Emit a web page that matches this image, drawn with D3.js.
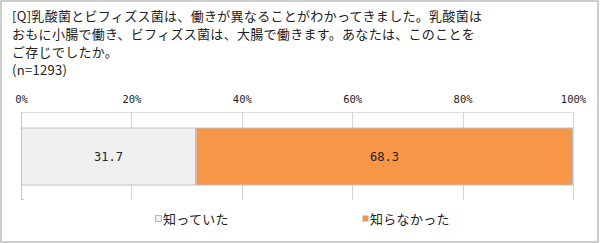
<!DOCTYPE html>
<html>
<head>
<meta charset="utf-8">
<script src="https://cdn.jsdelivr.net/npm/d3@7"></script>
<style>
  body { margin: 0; background: #fff; }
  svg { display: block; }
  text { font-family: "Noto Sans CJK JP", "DejaVu Sans", sans-serif; fill: #222; }
  text.mono { font-family: "DejaVu Sans Mono", monospace; }
</style>
</head>
<body>
<script>
// chart data
var titleLines = [
    "[Q]乳酸菌とビフィズス菌は、働きが異なることがわかってきました。乳酸菌は",
    "おもに小腸で働き、ビフィズス菌は、大腸で働きます。あなたは、このことを",
    "ご存じでしたか。",
    "(n=1293)"
];
var categories = ["知っていた", "知らなかった"];
var values = [31.7, 68.3];
var tickValues = [0, 20, 40, 60, 80, 100];
var colors = ["#f0f0f0", "#f79646"];
var legendColors = ["#f0f0f0", "#e39a55"];

var w = 600;
var h = 243;

var svg = d3.select("body").append("svg")
    .attr("width", w)
    .attr("height", h);

// outer frame
svg.append("rect")
    .attr("x", 1).attr("y", 1)
    .attr("width", w - 3).attr("height", h - 2)
    .attr("fill", "#fff")
    .attr("stroke", "#bdbdbd")
    .attr("stroke-width", 1.5);

// title
svg.append("g").selectAll("text")
    .data(titleLines)
    .enter().append("text")
    .attr("x", 12)
    .attr("y", function (d, i) { return 21 + i * 18; })
    .attr("font-size", "13px")
    .style("letter-spacing", "0.3px")
    .text(function (d) { return d; });

// scales
var x = d3.scaleLinear().domain([0, 100]).range([21, 573]);
var y = d3.scaleBand().domain(["Q"]).range([112, 200]).paddingOuter(0.272);

// stacked segments
var stack = [];
var acc = 0;
values.forEach(function (v, i) {
    stack.push({ name: categories[i], value: v, x0: acc, x1: acc + v, color: colors[i] });
    acc += v;
});

// plot frame: top line + left line
svg.append("line")
    .attr("x1", x(0)).attr("x2", x(100))
    .attr("y1", 112.5).attr("y2", 112.5)
    .attr("stroke", "#dcdcdc");
svg.append("line")
    .attr("x1", x(0) + 0.5).attr("x2", x(0) + 0.5)
    .attr("y1", 112).attr("y2", 200)
    .attr("stroke", "#c8c8c8");
svg.append("line")
    .attr("x1", x(0)).attr("x2", x(0) + 3)
    .attr("y1", 199.5).attr("y2", 199.5)
    .attr("stroke", "#c8c8c8");

// gridlines
svg.append("g").selectAll("line")
    .data(tickValues.slice(1))
    .enter().append("line")
    .attr("x1", function (d) { return Math.round(x(d)) + 0.5; })
    .attr("x2", function (d) { return Math.round(x(d)) + 0.5; })
    .attr("y1", 112).attr("y2", 200)
    .attr("stroke", "#d4d4d4");

// tick labels
var axis = svg.append("g")
    .attr("transform", "translate(0,103)")
    .call(d3.axisTop(x).tickValues(tickValues).tickSize(0).tickPadding(0)
        .tickFormat(function (d) { return d + "%"; }));
axis.select(".domain").remove();
axis.selectAll("text")
    .attr("class", "mono")
    .attr("font-size", "10.5px")
    .attr("fill", "#222");

// bars
svg.append("g").selectAll("rect")
    .data(stack)
    .enter().append("rect")
    .attr("x", function (d) { return x(d.x0) + 0.5; })
    .attr("y", y("Q") + 0.5)
    .attr("width", function (d) { return x(d.x1) - x(d.x0) - 1; })
    .attr("height", y.bandwidth())
    .attr("fill", function (d) { return d.color; })
    .attr("stroke", "#c4c0bc")
    .attr("stroke-width", 1);

// value labels
svg.append("g").selectAll("text")
    .data(stack)
    .enter().append("text")
    .attr("class", "mono")
    .attr("x", function (d) { return x((d.x0 + d.x1) / 2); })
    .attr("y", y("Q") + y.bandwidth() / 2 + 5)
    .attr("text-anchor", "middle")
    .attr("font-size", "12px")
    .text(function (d) { return d.value.toFixed(1); });

// legend
var legendX = [155, 362];
var legend = svg.append("g").selectAll("g")
    .data(categories)
    .enter().append("g")
    .attr("transform", function (d, i) { return "translate(" + legendX[i] + ",219)"; });
legend.append("rect")
    .attr("x", 0.5).attr("y", -3.5)
    .attr("width", 6).attr("height", 6)
    .attr("fill", function (d, i) { return legendColors[i]; })
    .attr("stroke", function (d, i) { return i === 0 ? "#b8b8b8" : "none"; });
legend.append("text")
    .attr("x", 8)
    .attr("y", 5)
    .attr("font-size", "13px")
    .style("letter-spacing", "0.3px")
    .text(function (d) { return d; });
</script>
</body>
</html>
